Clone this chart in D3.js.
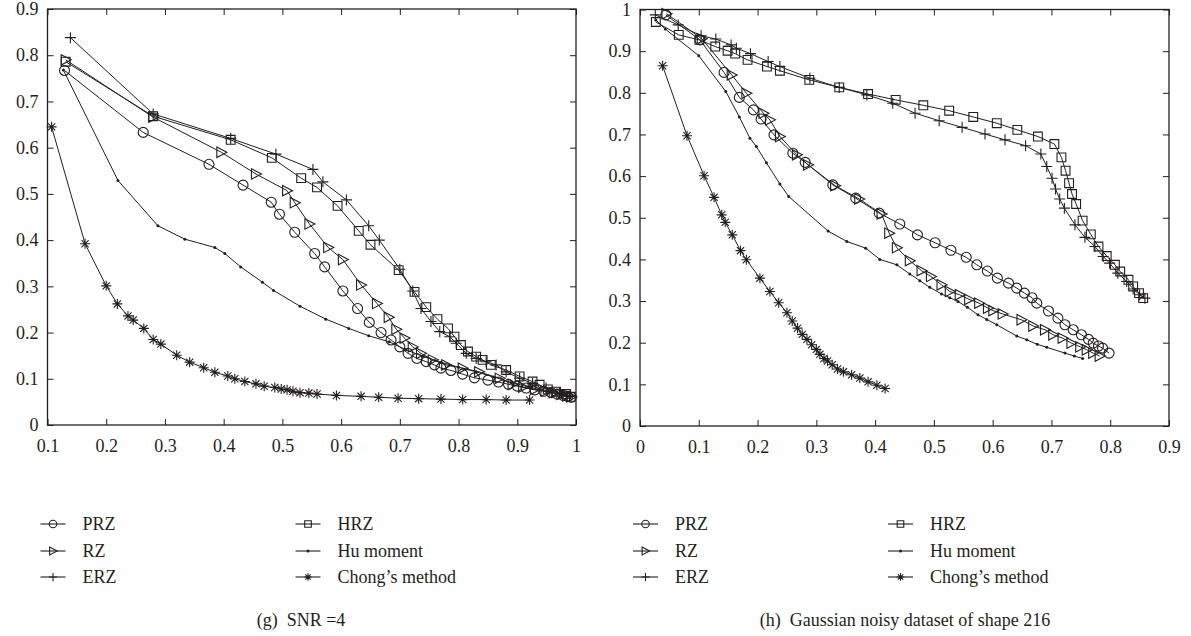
<!DOCTYPE html>
<html>
<head>
<meta charset="utf-8">
<script src="https://cdn.jsdelivr.net/npm/d3@7"></script>
<style>
  body { margin: 0; background: #fff; }
  svg text { font-family: "Liberation Serif", "Times New Roman", serif; fill: #231f20; }
</style>
</head>
<body>
<svg id="chart" width="1191" height="636"></svg>
<script>
// ---- panel (g): SNR = 4 ----
var przG = [[0.129,0.767],[0.263,0.633],[0.375,0.564],[0.433,0.519],[0.481,0.482],[0.495,0.456],[0.521,0.417],[0.555,0.371],[0.572,0.342],[0.603,0.29],[0.628,0.252],[0.648,0.222],[0.668,0.2],[0.685,0.184],[0.70,0.169],[0.714,0.155],[0.729,0.144],[0.745,0.137],[0.759,0.13],[0.77,0.123],[0.787,0.118],[0.807,0.11],[0.827,0.102],[0.85,0.097],[0.868,0.093],[0.885,0.088],[0.9,0.084],[0.915,0.08],[0.93,0.076],[0.945,0.073],[0.958,0.07],[0.968,0.067],[0.978,0.064],[0.986,0.062],[0.992,0.06]];
var rzG = [[0.131,0.79],[0.28,0.666],[0.396,0.59],[0.455,0.543],[0.508,0.507],[0.521,0.481],[0.546,0.435],[0.578,0.384],[0.603,0.358],[0.634,0.303],[0.661,0.263],[0.681,0.233],[0.694,0.207],[0.708,0.188],[0.722,0.169],[0.736,0.155],[0.756,0.141],[0.779,0.13],[0.807,0.123],[0.835,0.115],[0.87,0.101],[0.892,0.088],[0.91,0.082],[0.93,0.077],[0.948,0.073],[0.962,0.07],[0.975,0.066],[0.985,0.063],[0.992,0.061]];
var erzG = [[0.139,0.838],[0.28,0.673],[0.412,0.62],[0.489,0.586],[0.552,0.553],[0.569,0.526],[0.609,0.487],[0.647,0.431],[0.665,0.40],[0.70,0.337],[0.722,0.29],[0.736,0.252],[0.753,0.224],[0.768,0.202],[0.785,0.191],[0.796,0.177],[0.813,0.155],[0.83,0.144],[0.847,0.137],[0.864,0.13],[0.881,0.115],[0.904,0.101],[0.926,0.09],[0.949,0.08],[0.972,0.069],[0.989,0.062]];
var hrzG = [[0.131,0.786],[0.28,0.668],[0.412,0.617],[0.482,0.578],[0.532,0.534],[0.559,0.514],[0.594,0.474],[0.63,0.42],[0.65,0.39],[0.698,0.335],[0.725,0.288],[0.745,0.255],[0.764,0.229],[0.782,0.209],[0.793,0.191],[0.804,0.173],[0.816,0.159],[0.83,0.148],[0.841,0.141],[0.855,0.13],[0.881,0.119],[0.904,0.105],[0.926,0.094],[0.938,0.087],[0.952,0.077],[0.966,0.072],[0.983,0.067],[0.991,0.061]];
var huG = [[0.127,0.768],[0.22,0.529],[0.288,0.431],[0.334,0.402],[0.385,0.384],[0.402,0.371],[0.429,0.342],[0.466,0.309],[0.485,0.291],[0.53,0.257],[0.574,0.229],[0.613,0.209],[0.647,0.193],[0.682,0.18],[0.71,0.163],[0.74,0.148],[0.77,0.136],[0.8,0.125],[0.83,0.115],[0.86,0.104],[0.89,0.092],[0.92,0.082],[0.95,0.073],[0.975,0.066],[0.99,0.061]];
var chongG = [[0.107,0.645],[0.164,0.392],[0.2,0.301],[0.219,0.262],[0.237,0.236],[0.246,0.227],[0.264,0.209],[0.28,0.185],[0.293,0.175],[0.32,0.151],[0.342,0.136],[0.366,0.124],[0.385,0.114],[0.407,0.106],[0.419,0.1],[0.436,0.094],[0.455,0.089],[0.469,0.084],[0.487,0.081],[0.498,0.078],[0.508,0.076],[0.518,0.073],[0.53,0.07],[0.545,0.069],[0.559,0.067],[0.592,0.064],[0.634,0.062],[0.664,0.06],[0.697,0.058],[0.732,0.057],[0.77,0.056],[0.807,0.055],[0.847,0.055],[0.881,0.054],[0.921,0.054]];

// ---- panel (h): Gaussian noisy dataset of shape 216 ----
var przH = [[0.044,0.987],[0.102,0.927],[0.143,0.849],[0.169,0.789],[0.193,0.759],[0.206,0.737],[0.228,0.699],[0.26,0.655],[0.281,0.633],[0.328,0.579],[0.367,0.547],[0.407,0.511],[0.442,0.485],[0.472,0.459],[0.502,0.44],[0.529,0.422],[0.555,0.405],[0.573,0.387],[0.591,0.372],[0.608,0.355],[0.627,0.343],[0.641,0.331],[0.654,0.319],[0.667,0.308],[0.675,0.295],[0.695,0.276],[0.711,0.259],[0.723,0.243],[0.737,0.231],[0.751,0.219],[0.763,0.208],[0.771,0.199],[0.78,0.192],[0.787,0.187],[0.798,0.175]];
var rzH = [[0.045,0.99],[0.105,0.93],[0.156,0.843],[0.181,0.799],[0.21,0.751],[0.221,0.735],[0.238,0.695],[0.267,0.651],[0.286,0.627],[0.332,0.577],[0.373,0.545],[0.411,0.509],[0.424,0.463],[0.437,0.428],[0.459,0.397],[0.479,0.373],[0.495,0.359],[0.513,0.339],[0.527,0.323],[0.544,0.315],[0.56,0.304],[0.577,0.295],[0.592,0.283],[0.601,0.277],[0.617,0.269],[0.649,0.255],[0.669,0.24],[0.689,0.231],[0.703,0.219],[0.719,0.211],[0.734,0.199],[0.749,0.19],[0.76,0.183],[0.771,0.175],[0.782,0.168]];
var erzH = [[0.026,0.987],[0.065,0.963],[0.104,0.937],[0.129,0.929],[0.155,0.915],[0.164,0.907],[0.188,0.894],[0.218,0.875],[0.238,0.863],[0.289,0.835],[0.339,0.813],[0.386,0.795],[0.43,0.775],[0.468,0.751],[0.509,0.733],[0.548,0.717],[0.587,0.701],[0.621,0.687],[0.656,0.673],[0.682,0.653],[0.692,0.623],[0.701,0.595],[0.707,0.569],[0.714,0.545],[0.722,0.523],[0.74,0.483],[0.757,0.453],[0.774,0.431],[0.788,0.407],[0.799,0.391],[0.813,0.367],[0.828,0.347],[0.839,0.329],[0.85,0.315],[0.859,0.307]];
var hrzH = [[0.027,0.97],[0.066,0.939],[0.101,0.927],[0.128,0.911],[0.149,0.901],[0.162,0.894],[0.183,0.879],[0.216,0.863],[0.238,0.853],[0.288,0.831],[0.339,0.813],[0.388,0.797],[0.435,0.783],[0.482,0.77],[0.526,0.757],[0.567,0.742],[0.607,0.727],[0.642,0.711],[0.677,0.695],[0.705,0.677],[0.717,0.645],[0.724,0.613],[0.73,0.583],[0.735,0.557],[0.742,0.533],[0.753,0.493],[0.767,0.46],[0.78,0.431],[0.794,0.408],[0.808,0.387],[0.817,0.371],[0.831,0.351],[0.839,0.335],[0.849,0.319],[0.856,0.307]];
var huH = [[0.027,0.975],[0.043,0.953],[0.1,0.889],[0.146,0.803],[0.169,0.742],[0.187,0.691],[0.198,0.671],[0.215,0.632],[0.238,0.581],[0.253,0.551],[0.32,0.468],[0.352,0.443],[0.384,0.427],[0.408,0.4],[0.437,0.387],[0.459,0.365],[0.476,0.349],[0.493,0.333],[0.513,0.317],[0.527,0.308],[0.541,0.299],[0.557,0.285],[0.575,0.267],[0.59,0.256],[0.607,0.243],[0.641,0.216],[0.658,0.207],[0.676,0.196],[0.692,0.189],[0.723,0.175],[0.739,0.168],[0.753,0.162]];
var chongH = [[0.0385,0.865],[0.08,0.697],[0.109,0.601],[0.126,0.549],[0.139,0.507],[0.145,0.489],[0.157,0.459],[0.171,0.421],[0.181,0.399],[0.204,0.355],[0.221,0.323],[0.236,0.296],[0.25,0.272],[0.259,0.252],[0.268,0.235],[0.276,0.22],[0.284,0.208],[0.292,0.195],[0.3,0.184],[0.306,0.172],[0.313,0.162],[0.319,0.156],[0.327,0.147],[0.336,0.137],[0.346,0.13],[0.36,0.123],[0.374,0.115],[0.388,0.106],[0.403,0.098],[0.417,0.09]];

var seriesNames = ["PRZ", "RZ", "ERZ", "HRZ", "Hu moment", "Chong\u2019s method"];
var seriesSymbols = ["circle", "triangle", "plus", "square", "dot", "star"];
var xTicksG = [0.1, 0.2, 0.3, 0.4, 0.5, 0.6, 0.7, 0.8, 0.9, 1];
var yTicksG = [0, 0.1, 0.2, 0.3, 0.4, 0.5, 0.6, 0.7, 0.8, 0.9];
var xTicksH = [0, 0.1, 0.2, 0.3, 0.4, 0.5, 0.6, 0.7, 0.8, 0.9];
var yTicksH = [0, 0.1, 0.2, 0.3, 0.4, 0.5, 0.6, 0.7, 0.8, 0.9, 1];

var ink = "#231f20";
var svg = d3.select("#chart");

// marker path, centred on 0,0; k scales it down for the legend
function markerPath(type, k) {
  k = k || 1;
  var p = d3.path();
  if (type === "circle") {
    var r = 5 * k;
    p.moveTo(r, 0); p.arc(0, 0, r, 0, 2 * Math.PI);
  } else if (type === "triangle") {
    p.moveTo(-4.5 * k, -5.2 * k); p.lineTo(5.5 * k, 0); p.lineTo(-4.5 * k, 5.2 * k); p.closePath();
  } else if (type === "square") {
    var s = 4.4 * k;
    p.rect(-s, -s, 2 * s, 2 * s);
  } else if (type === "plus") {
    var a = 5.5 * k;
    p.moveTo(-a, 0); p.lineTo(a, 0); p.moveTo(0, -a); p.lineTo(0, a);
  } else if (type === "star") {
    var b = 5 * k, c = 3.6 * k;
    p.moveTo(-b, 0); p.lineTo(b, 0); p.moveTo(0, -b); p.lineTo(0, b);
    p.moveTo(-c, -c); p.lineTo(c, c); p.moveTo(-c, c); p.lineTo(c, -c);
  }
  return p.toString();
}

function drawMarker(g, type, x, y, k) {
  if (type === "dot") {
    g.append("circle").attr("cx", x).attr("cy", y).attr("r", 1.5).attr("fill", ink);
  } else {
    g.append("path")
      .attr("d", markerPath(type, k))
      .attr("transform", "translate(" + x + "," + y + ")")
      .attr("fill", "none").attr("stroke", ink).attr("stroke-width", 1.1);
  }
}

function panel(cfg) {
  var x = d3.scaleLinear().domain(cfg.xDomain).range([cfg.left, cfg.right]);
  var y = d3.scaleLinear().domain(cfg.yDomain).range([cfg.bottom, cfg.top]);
  var g = svg.append("g");

  // inward ticks on all four sides
  g.append("g").attr("transform", "translate(0," + cfg.bottom + ")")
    .call(d3.axisBottom(x).tickValues(cfg.xTicks).tickSize(-6).tickPadding(14).tickFormat(d3.format("")));
  g.append("g").attr("transform", "translate(0," + cfg.top + ")")
    .call(d3.axisTop(x).tickValues(cfg.xTicks).tickSize(-6).tickFormat(""));
  g.append("g").attr("transform", "translate(" + cfg.left + ",0)")
    .call(d3.axisLeft(y).tickValues(cfg.yTicks).tickSize(-6).tickPadding(9).tickFormat(d3.format("")));
  g.append("g").attr("transform", "translate(" + cfg.right + ",0)")
    .call(d3.axisRight(y).tickValues(cfg.yTicks).tickSize(-6).tickFormat(""));

  g.selectAll(".domain").remove();
  g.selectAll(".tick line").attr("stroke", ink).attr("stroke-width", 1);
  g.selectAll(".tick text").attr("font-size", 18).attr("fill", ink)
    .attr("font-family", "Liberation Serif, serif");

  g.append("rect")
    .attr("x", cfg.left).attr("y", cfg.top)
    .attr("width", cfg.right - cfg.left).attr("height", cfg.bottom - cfg.top)
    .attr("fill", "none").attr("stroke", ink).attr("stroke-width", 1.3);

  var line = d3.line().x(function (d) { return x(d[0]); }).y(function (d) { return y(d[1]); });

  cfg.series.forEach(function (data, i) {
    g.append("path").attr("d", line(data))
      .attr("fill", "none").attr("stroke", ink).attr("stroke-width", 1);
    var mg = g.append("g");
    data.forEach(function (d) { drawMarker(mg, seriesSymbols[i], x(d[0]), y(d[1]), 1); });
  });

  // legend: two columns of three
  var rows = [524, 551, 577];
  seriesNames.forEach(function (name, i) {
    var col = Math.floor(i / 3), row = i % 3;
    var lx = cfg.left - 7 + col * 255;
    var ly = rows[row];
    g.append("line").attr("x1", lx).attr("x2", lx + 25).attr("y1", ly).attr("y2", ly)
      .attr("stroke", ink).attr("stroke-width", 1.1);
    drawMarker(g, seriesSymbols[i], lx + 12.5, ly, 0.75);
    g.append("text").attr("x", lx + 42).attr("y", ly + 6)
      .attr("font-size", 18).text(name);
  });

  g.append("text").attr("x", cfg.captionX).attr("y", 626)
    .attr("text-anchor", "middle").attr("font-size", 18)
    .attr("xml:space", "preserve").text(cfg.caption);
}

panel({
  left: 47.5, right: 576, top: 9, bottom: 425,
  xDomain: [0.1, 1], yDomain: [0, 0.9], xTicks: xTicksG, yTicks: yTicksG,
  series: [przG, rzG, erzG, hrzG, huG, chongG],
  caption: "(g)  SNR =4", captionX: 301
});

panel({
  left: 640, right: 1169, top: 9.5, bottom: 426,
  xDomain: [0, 0.9], yDomain: [0, 1], xTicks: xTicksH, yTicks: yTicksH,
  series: [przH, rzH, erzH, hrzH, huH, chongH],
  caption: "(h)  Gaussian noisy dataset of shape 216", captionX: 905
});
</script>
</body>
</html>
